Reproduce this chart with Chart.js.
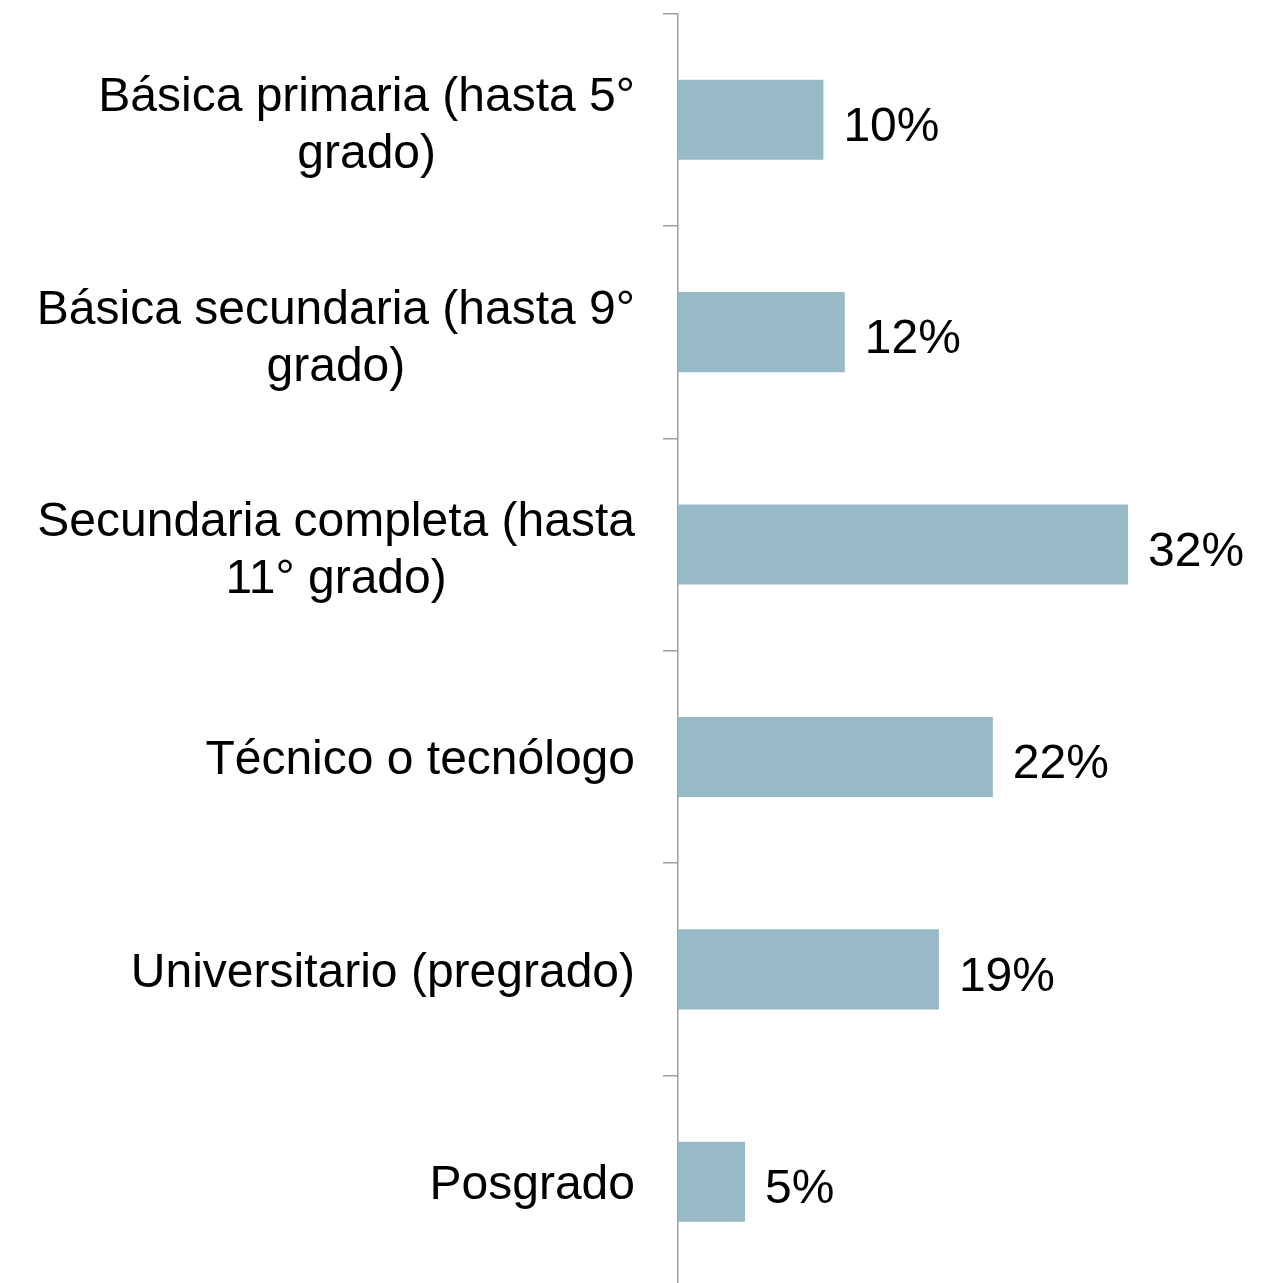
<!DOCTYPE html>
<html>
<head>
<meta charset="utf-8">
<script src="https://cdn.jsdelivr.net/npm/chart.js@4/dist/chart.umd.min.js"></script>
<style>
  html, body { margin: 0; padding: 0; background: #fff; overflow: hidden; }
  #wrap { width: 1261px; height: 1283px; overflow: hidden; }
  canvas { display: block; }
</style>
</head>
<body>
<div id="wrap"><canvas id="c" width="1261" height="1290"></canvas></div>
<script>
const categories = [
  ["Básica primaria (hasta 5°", "grado)"],
  ["Básica secundaria (hasta 9°", "grado)"],
  ["Secundaria completa (hasta", "11° grado)"],
  ["Técnico o tecnólogo"],
  ["Universitario (pregrado)"],
  ["Posgrado"]
];
const values = [10.35, 11.87, 32.03, 22.41, 18.57, 4.77];
const valueLabels = ["10%", "12%", "32%", "22%", "19%", "5%"];

const FONT = "'Liberation Sans', Arial, sans-serif";

const labelPlugin = {
  id: 'customLabels',
  afterDraw(chart) {
    const ctx = chart.ctx;
    ctx.save();
    ctx.font = "48px " + FONT;
    ctx.fillStyle = "#000";
    ctx.textBaseline = "middle";
    // value labels at bar ends
    const meta = chart.getDatasetMeta(0);
    ctx.textAlign = "left";
    meta.data.forEach((bar, i) => {
      ctx.fillText(valueLabels[i], bar.x + 20, bar.y + 8);
    });
    // category labels: block right-aligned, lines centered in block
    const yScale = chart.scales.y;
    const rightEdge = yScale.right - 15 - 28;
    ctx.textAlign = "center";
    categories.forEach((lines, i) => {
      const y = yScale.getPixelForTick(i);
      const w = Math.max(...lines.map(l => ctx.measureText(l).width));
      const cx = rightEdge - w / 2;
      const n = lines.length;
      lines.forEach((line, j) => {
        const ly = y + (j - (n - 1) / 2) * 57 + (n > 1 ? 7 : 4);
        ctx.fillText(line, cx, ly);
      });
    });
    ctx.restore();
  }
};

new Chart(document.getElementById('c'), {
  type: 'bar',
  data: {
    labels: categories.map(l => l.join(' ')),
    datasets: [{
      data: values,
      backgroundColor: '#97bac6',
      borderWidth: 0,
      categoryPercentage: 1,
      barPercentage: 0.377
    }]
  },
  options: {
    indexAxis: 'y',
    responsive: false,
    animation: false,
    layout: { padding: { left: 0, right: 21, top: 13.5, bottom: 2 } },
    plugins: { legend: { display: false }, tooltip: { enabled: false } },
    scales: {
      x: { display: false, min: 0, max: 40 },
      y: {
        afterFit(scale) { scale.width = 678; },
        border: { display: true, color: '#a0a0a0', width: 1.5 },
        grid: { offset: true, drawOnChartArea: false, drawTicks: true, tickLength: 15, color: '#a0a0a0', lineWidth: 1.5 },
        ticks: { display: false, autoSkip: false }
      }
    }
  },
  plugins: [labelPlugin]
});
</script>
</body>
</html>
